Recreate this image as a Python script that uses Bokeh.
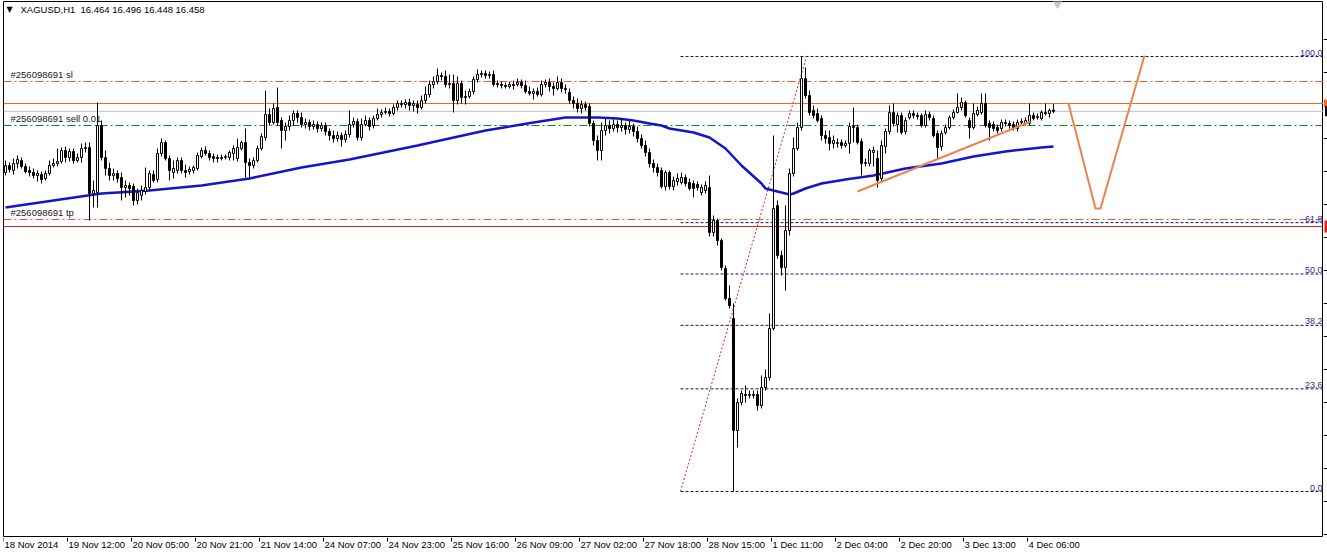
from bokeh.plotting import figure
from bokeh.models import Range1d, ColumnDataSource
from bokeh.layouts import column, row
from bokeh.core.properties import value
from bokeh.embed import file_html
from bokeh.resources import INLINE

symbol = "XAGUSD,H1"

bar_open = [
16.152,16.187,16.162,16.197,16.212,16.182,16.162,16.152,16.137,16.142,
16.122,16.147,16.187,16.197,16.207,16.262,16.227,16.257,16.212,16.227,
16.272,16.277,16.047,16.052,16.387,16.227,16.172,16.137,16.147,16.127,
16.077,16.087,16.082,16.012,16.037,16.057,16.077,16.142,16.117,16.247,
16.302,16.222,16.152,16.162,16.212,16.162,16.157,16.162,16.172,16.232,
16.262,16.247,16.232,16.227,16.222,16.227,16.227,16.247,16.222,16.272,
16.302,16.202,16.187,16.212,16.272,16.327,16.442,16.402,16.477,16.412,
16.362,16.382,16.412,16.447,16.427,16.392,16.402,16.382,16.392,16.372,
16.387,16.357,16.337,16.322,16.337,16.317,16.342,16.392,16.407,16.327,
16.392,16.412,16.387,16.422,16.442,16.452,16.457,16.447,16.477,16.497,
16.492,16.502,16.487,16.492,16.477,16.512,16.542,16.592,16.607,16.637,
16.632,16.592,16.597,16.512,16.597,16.527,16.532,16.557,16.617,16.642,
16.647,16.637,16.642,16.597,16.592,16.587,16.582,16.592,16.592,16.602,
16.587,16.557,16.547,16.557,16.542,16.592,16.602,16.582,16.572,16.602,
16.572,16.552,16.512,16.497,16.472,16.492,16.482,16.397,16.312,16.262,
16.362,16.387,16.372,16.392,16.377,16.387,16.367,16.382,16.357,16.322,
16.287,16.252,16.197,16.177,16.162,16.082,16.152,16.082,16.107,16.102,
16.127,16.102,16.097,16.092,16.052,16.062,16.077,15.852,15.912,15.812,
15.672,15.522,15.422,14.862,15.002,15.042,15.037,15.042,15.042,14.987,
15.077,15.127,15.372,15.987,15.737,15.677,15.862,16.147,16.272,16.377,
16.622,16.537,16.462,16.447,16.422,16.337,16.327,16.297,16.297,16.302,
16.287,16.297,16.382,16.377,16.307,16.197,16.197,16.252,16.222,16.122,
16.282,16.357,16.452,16.392,16.437,16.357,16.427,16.447,16.437,16.437,
16.387,16.442,16.422,16.347,16.282,16.352,16.377,16.427,16.452,16.477,
16.502,16.412,16.377,16.442,16.452,16.497,16.397,16.392,16.377,16.372,
16.402,16.397,16.392,16.372,16.402,16.397,16.397,16.437,16.427,16.422,
16.452,16.447,16.464]

bar_high = [
16.212,16.202,16.222,16.237,16.227,16.197,16.182,16.172,16.162,16.157,
16.162,16.212,16.222,16.272,16.277,16.282,16.272,16.272,16.247,16.297,
16.302,16.302,16.112,16.502,16.412,16.262,16.202,16.172,16.162,16.152,
16.112,16.102,16.097,16.072,16.087,16.177,16.162,16.162,16.272,16.322,
16.312,16.237,16.212,16.227,16.227,16.192,16.182,16.187,16.252,16.277,
16.282,16.262,16.247,16.242,16.242,16.242,16.262,16.287,16.322,16.312,
16.372,16.222,16.227,16.287,16.347,16.562,16.472,16.497,16.577,16.427,
16.402,16.437,16.462,16.462,16.452,16.422,16.417,16.412,16.407,16.402,
16.402,16.372,16.362,16.357,16.352,16.362,16.462,16.427,16.422,16.422,
16.437,16.427,16.437,16.472,16.467,16.477,16.472,16.492,16.512,16.512,
16.517,16.522,16.512,16.512,16.537,16.582,16.612,16.632,16.672,16.652,
16.662,16.642,16.642,16.632,16.612,16.562,16.572,16.632,16.667,16.662,
16.662,16.657,16.662,16.612,16.607,16.602,16.607,16.612,16.622,16.617,
16.612,16.582,16.572,16.577,16.612,16.617,16.622,16.602,16.632,16.622,
16.592,16.572,16.532,16.522,16.512,16.507,16.497,16.412,16.337,16.402,
16.422,16.412,16.417,16.412,16.422,16.402,16.412,16.397,16.382,16.342,
16.312,16.272,16.217,16.197,16.177,16.162,16.162,16.132,16.147,16.152,
16.142,16.122,16.112,16.107,16.092,16.107,16.137,15.937,15.922,15.822,
15.687,15.587,15.497,15.022,15.062,15.087,15.062,15.062,15.062,15.137,
15.167,15.447,16.337,16.012,15.762,15.987,16.172,16.327,16.402,16.732,
16.677,16.562,16.487,16.472,16.437,16.362,16.362,16.337,16.322,16.317,
16.312,16.402,16.477,16.392,16.322,16.222,16.272,16.282,16.262,16.312,
16.372,16.487,16.497,16.452,16.452,16.427,16.462,16.462,16.452,16.447,
16.462,16.457,16.437,16.362,16.362,16.392,16.437,16.467,16.547,16.527,
16.512,16.427,16.497,16.482,16.547,16.547,16.412,16.407,16.392,16.417,
16.417,16.412,16.407,16.417,16.422,16.427,16.497,16.452,16.447,16.462,
16.497,16.472,16.496]

bar_low = [
16.137,16.152,16.142,16.172,16.172,16.147,16.132,16.122,16.107,16.097,
16.112,16.137,16.177,16.182,16.197,16.202,16.207,16.197,16.202,16.202,
16.252,15.912,15.977,15.977,16.212,16.137,16.112,16.112,16.102,16.012,
16.027,16.037,15.987,15.992,16.012,16.042,16.062,16.102,16.102,16.232,
16.212,16.112,16.122,16.147,16.147,16.127,16.142,16.147,16.162,16.222,
16.237,16.212,16.202,16.202,16.212,16.217,16.212,16.212,16.207,16.262,
16.127,16.122,16.172,16.202,16.262,16.312,16.387,16.392,16.387,16.272,
16.312,16.362,16.387,16.402,16.377,16.372,16.362,16.367,16.352,16.357,
16.337,16.312,16.302,16.307,16.282,16.302,16.327,16.377,16.312,16.312,
16.382,16.362,16.372,16.412,16.427,16.442,16.432,16.437,16.462,16.477,
16.472,16.462,16.457,16.447,16.467,16.497,16.527,16.572,16.592,16.612,
16.577,16.572,16.452,16.492,16.497,16.492,16.522,16.542,16.602,16.627,
16.622,16.622,16.582,16.577,16.572,16.572,16.572,16.567,16.582,16.572,
16.547,16.537,16.517,16.532,16.532,16.577,16.557,16.537,16.562,16.552,
16.547,16.497,16.472,16.452,16.447,16.462,16.382,16.287,16.212,16.212,
16.337,16.347,16.357,16.352,16.357,16.342,16.347,16.332,16.302,16.272,
16.232,16.177,16.152,16.132,16.072,16.062,16.067,16.062,16.087,16.092,
16.082,16.062,16.027,16.062,16.037,16.047,15.832,15.832,15.787,15.662,
15.512,15.472,14.557,14.777,14.987,15.002,15.022,15.022,14.962,14.972,
15.062,15.112,15.362,15.722,15.637,15.562,15.837,16.132,16.262,16.362,
16.522,16.437,16.422,16.402,16.312,16.297,16.262,16.272,16.277,16.272,
16.277,16.247,16.302,16.292,16.137,16.182,16.182,16.182,16.077,16.102,
16.247,16.342,16.382,16.352,16.342,16.342,16.417,16.422,16.417,16.377,
16.377,16.412,16.327,16.222,16.262,16.342,16.367,16.417,16.447,16.462,
16.427,16.322,16.367,16.432,16.442,16.377,16.312,16.357,16.347,16.357,
16.382,16.372,16.362,16.357,16.392,16.387,16.387,16.412,16.417,16.412,
16.437,16.427,16.448]

bar_close = [
16.187,16.167,16.197,16.217,16.182,16.157,16.152,16.137,16.147,16.117,
16.147,16.187,16.197,16.207,16.262,16.227,16.257,16.212,16.227,16.272,
16.277,16.047,16.062,16.387,16.227,16.172,16.137,16.147,16.122,16.077,
16.087,16.072,16.012,16.052,16.062,16.077,16.147,16.112,16.247,16.302,
16.222,16.162,16.172,16.212,16.162,16.152,16.167,16.177,16.237,16.262,
16.247,16.227,16.222,16.222,16.227,16.232,16.252,16.272,16.277,16.302,
16.202,16.187,16.212,16.272,16.332,16.442,16.402,16.472,16.402,16.362,
16.382,16.412,16.447,16.427,16.392,16.402,16.382,16.392,16.372,16.387,
16.357,16.337,16.322,16.337,16.317,16.342,16.392,16.407,16.327,16.392,
16.412,16.382,16.422,16.442,16.452,16.457,16.447,16.477,16.497,16.492,
16.502,16.487,16.497,16.477,16.512,16.542,16.592,16.607,16.637,16.632,
16.592,16.597,16.512,16.597,16.527,16.532,16.557,16.617,16.642,16.647,
16.637,16.642,16.592,16.592,16.587,16.582,16.592,16.587,16.602,16.587,
16.557,16.547,16.557,16.542,16.592,16.602,16.582,16.572,16.602,16.572,
16.567,16.512,16.497,16.472,16.492,16.477,16.397,16.312,16.262,16.362,
16.387,16.372,16.392,16.377,16.387,16.367,16.382,16.357,16.322,16.287,
16.252,16.197,16.177,16.152,16.082,16.152,16.082,16.112,16.122,16.127,
16.097,16.072,16.072,16.077,16.077,16.087,15.852,15.912,15.812,15.677,
15.522,15.487,14.862,15.002,15.047,15.037,15.042,15.037,14.987,15.077,
15.127,15.372,15.972,15.737,15.677,15.862,16.147,16.272,16.377,16.622,
16.537,16.452,16.437,16.412,16.337,16.322,16.297,16.312,16.302,16.287,
16.297,16.382,16.377,16.302,16.197,16.202,16.262,16.262,16.112,16.287,
16.357,16.452,16.397,16.437,16.352,16.412,16.447,16.437,16.432,16.387,
16.442,16.427,16.337,16.277,16.347,16.377,16.427,16.452,16.477,16.502,
16.437,16.377,16.447,16.462,16.497,16.387,16.377,16.372,16.362,16.402,
16.397,16.387,16.372,16.402,16.407,16.412,16.437,16.422,16.432,16.452,
16.447,16.462,16.458]

ma_bars = [0, 24, 36, 49, 61, 74, 86, 103, 120, 132,
           140, 145, 148, 153, 157, 161, 164, 166, 172, 176,
           180, 184, 189, 190, 194, 196, 197, 200, 204, 210,
           217, 225, 234, 242, 250, 259, 262]
ma_values = [15.977, 16.047, 16.062, 16.087, 16.122, 16.177, 16.217, 16.287, 16.362, 16.402,
             16.427, 16.427, 16.427, 16.422, 16.412, 16.397, 16.387, 16.372, 16.352, 16.327,
             16.272, 16.187, 16.097, 16.072, 16.052, 16.042, 16.047, 16.072, 16.097, 16.117,
             16.137, 16.172, 16.197, 16.232, 16.257, 16.277, 16.282]

date_bars = [0, 16, 32, 48, 64, 80, 96, 112, 128, 144, 160, 176, 192, 208, 224, 240, 256]
date_labels = ["18 Nov 2014", "19 Nov 12:00", "20 Nov 05:00", "20 Nov 21:00", "21 Nov 14:00",
               "24 Nov 07:00", "24 Nov 23:00", "25 Nov 16:00", "26 Nov 09:00", "27 Nov 02:00",
               "27 Nov 18:00", "28 Nov 15:00", "1 Dec 11:00", "2 Dec 04:00", "2 Dec 20:00",
               "3 Dec 13:00", "4 Dec 06:00"]

price_ticks = [16.817, 16.652, 16.487, 16.322, 16.157, 15.992, 15.827, 15.662,
               15.497, 15.332, 15.167, 15.002, 14.837, 14.672, 14.507, 14.342]

order_id = "#256098691"
sl_price = 16.607
sell_price = 16.387
sell_lots = 0.01
tp_price = 15.917
orange_level = 16.497
red_level = 15.882

fib_bars = [168.75, 200.25]
fib_prices = [14.557, 16.732]
fib_levels = [0.0, 23.6, 38.2, 50.0, 61.8, 100.0]

trend_bars = [213.0, 256.25]
trend_prices = [16.057, 16.407]

zig_bars = [265.75, 272.5, 273.75, 284.75]
zig_prices = [16.497, 15.972, 15.972, 16.737]

# ---------------------------------------------------------------
FONT = value("Liberation Sans")
FS = "9.5px"
FW, FH = 1320, 536
X0 = -0.5
X1 = X0 + FW / 4.0
Y1 = 17.007
Y0 = Y1 - FH * 0.005

ORANGE_LINE = "#EE6A20"
RED_LINE = "#E41E1E"
ORDER_RED = "#E85A30"
ORDER_GREEN = "#0A8A0A"

p = figure(frame_width=FW, frame_height=FH,
           x_range=Range1d(X0, X1), y_range=Range1d(Y0, Y1),
           output_backend="svg", toolbar_location=None,
           x_axis_location=None, y_axis_location=None,
           min_border_left=3, min_border_right=0, min_border_top=1, min_border_bottom=0,
           background_fill_color="white", border_fill_color="white",
           outline_line_color="black", outline_line_width=1)
p.grid.visible = False


def hline(price, color, dash="solid"):
    p.segment(x0=[X0], y0=[price], x1=[X1], y1=[price],
              line_color=color, line_dash=dash, line_width=1)


# horizontal price lines
hline(sl_price, ORDER_RED, "8 3 2 3")
hline(orange_level, ORANGE_LINE)
hline(bar_close[-1], "#BEBEBE")
hline(sell_price, ORDER_GREEN, "8 3 2 3")
hline(tp_price, ORDER_RED, "8 3 2 3")
hline(red_level, RED_LINE)

# fibonacci retracement
f_lo, f_hi = fib_prices
fib_y = [f_lo + (f_hi - f_lo) * lv / 100.0 for lv in fib_levels]
p.segment(x0=[fib_bars[0]] * len(fib_y), y0=fib_y, x1=[X1] * len(fib_y), y1=fib_y,
          line_color="#15156E", line_dash="3 2", line_width=1)
p.text(x=[X1] * len(fib_y), y=fib_y, text=[f"{lv:.1f}" for lv in fib_levels],
       text_align="right", text_baseline="bottom", x_offset=-1, y_offset=-1,
       text_font=FONT, text_font_size="9px", text_color="#2A2A96")
p.line(fib_bars, fib_prices, line_color="#C8283C", line_dash="2 2", line_width=1)

# moving average
p.line(ma_bars, ma_values, line_color="#1414C8", line_width=2.5)

# candles
n = len(bar_close)
idx = list(range(n))
tops = [max(o, c) for o, c in zip(bar_open, bar_close)]
bots = [min(o, c) for o, c in zip(bar_open, bar_close)]
fills = ["white" if c >= o else "black" for o, c in zip(bar_open, bar_close)]
src = ColumnDataSource(dict(x=idx, hi=bar_high, lo=bar_low, top=tops, bottom=bots, fill=fills))
p.segment(x0="x", y0="hi", x1="x", y1="lo", source=src, line_color="black", line_width=1)
p.vbar(x="x", top="top", bottom="bottom", width=0.5, source=src,
       fill_color="fill", line_color="black", line_width=1)

# drawn objects
p.line(trend_bars, trend_prices, line_color="#F08050", line_width=2)
p.line(zig_bars, zig_prices, line_color="#F08050", line_width=2)

# chart-shift marker
p.scatter(x=[n], y=[Y1], marker="inverted_triangle", size=12,
          fill_color="#C8C8C8", line_color="#C8C8C8")

# order line labels
p.text(x=[X0] * 3, y=[sl_price, sell_price, tp_price],
       text=[f"{order_id} sl", f"{order_id} sell {sell_lots:.2f}", f"{order_id} tp"],
       text_align="left", text_baseline="bottom", x_offset=7, y_offset=-2,
       text_font=FONT, text_font_size=FS, text_color="#202020")

# header
p.text(x=[X0], y=[Y1], text=["\u25BC"], text_align="left", text_baseline="top",
       x_offset=3, y_offset=3, text_font=value("DejaVu Sans"), text_font_size="8px",
       text_color="black")
p.text(x=[X0], y=[Y1], text=[symbol], text_align="left", text_baseline="top",
       x_offset=17, y_offset=2, text_font=FONT, text_font_size=FS, text_color="black")
p.text(x=[X0], y=[Y1],
       text=[f"{bar_open[-1]:.3f} {bar_high[-1]:.3f} {bar_low[-1]:.3f} {bar_close[-1]:.3f}"],
       text_align="left", text_baseline="top", x_offset=77, y_offset=2,
       text_font=FONT, text_font_size=FS, text_color="black")

# price scale strip (ticks and level markers; its labels lie beyond the window)
r = figure(frame_width=4, frame_height=FH, x_range=Range1d(0, 4), y_range=p.y_range,
           output_backend="svg", toolbar_location=None,
           x_axis_location=None, y_axis_location=None,
           min_border_left=0, min_border_right=0, min_border_top=1, min_border_bottom=0,
           background_fill_color="white", border_fill_color="white", outline_line_color=None)
r.grid.visible = False
r.segment(x0=[0] * len(price_ticks), y0=price_ticks, x1=[4] * len(price_ticks), y1=price_ticks,
          line_color="black", line_width=1)
r.rect(x=[2.3, 2.8, 2.5], y=[orange_level, bar_close[-1], red_level],
       width=[3.5, 2.5, 3.0], height=[8, 10, 12], height_units="screen",
       fill_color=[ORANGE_LINE, "black", RED_LINE], line_color=None)

# time scale
q = figure(frame_width=FW, frame_height=16, x_range=p.x_range, y_range=Range1d(0, 16),
           output_backend="svg", toolbar_location=None,
           x_axis_location=None, y_axis_location=None,
           min_border_left=3, min_border_right=4, min_border_top=0, min_border_bottom=0,
           background_fill_color="white", border_fill_color="white", outline_line_color=None)
q.grid.visible = False
tick_x = [b - 0.5 for b in date_bars]
q.segment(x0=tick_x, y0=[16] * len(tick_x), x1=tick_x, y1=[12] * len(tick_x),
          line_color="black", line_width=1)
q.text(x=tick_x, y=[15] * len(tick_x), text=date_labels, text_align="left",
       text_baseline="top", x_offset=1, text_font=FONT, text_font_size=FS, text_color="black")

layout = column(row(p, r, spacing=0), q, spacing=0)
open("out.html", "w").write(file_html(layout, INLINE))
